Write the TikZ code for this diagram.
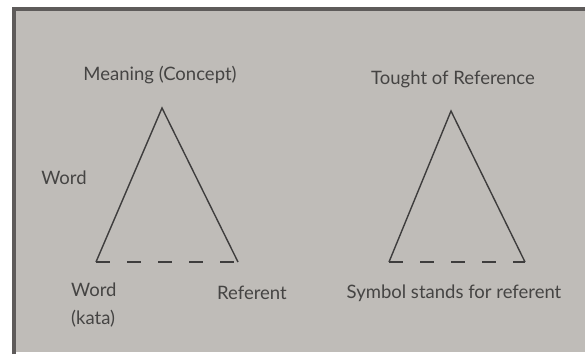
\documentclass[tikz,border=0pt]{standalone}
\usepackage{fontspec}
\setmainfont{Lato}
\usepackage{xcolor}
\definecolor{pagegray}{HTML}{BFBCB8}
\definecolor{framegray}{HTML}{5E5B5A}
\definecolor{inkgray}{HTML}{3E3D3D}
\definecolor{textgray}{HTML}{454443}

\begin{document}
\begin{tikzpicture}[
    x=1pt, y=1pt, yscale=-1, xscale=1,
    every node/.style={font=\fontsize{18.5}{28}\selectfont, text=textgray, inner sep=1pt},
    side/.style={draw=inkgray, line width=1.4pt, line join=miter},
    base/.style={draw=inkgray, line width=1.8pt, dash pattern=on 14 off 17}
]
\useasboundingbox (0,0) rectangle (585,354);

%==================== Page and frame ====================
\fill[white] (0,0) rectangle (585,354);
\fill[pagegray] (12,7) rectangle (585,352);
\draw[framegray, line width=3.5pt] (14,354) -- (14,9) -- (585,9);

%==================== Left triangle ====================
\coordinate (mtop)   at (162,108);
\coordinate (mword)  at (96,262);
\coordinate (mref)   at (238,262);
\draw[side] (mword) -- (mtop) -- (mref);
\draw[base] (mword) -- (mref);

%==================== Right triangle ====================
\coordinate (ttop)   at (451,111);
\coordinate (tsym)   at (389,262);
\coordinate (tref)   at (525,262);
\draw[side] (tsym) -- (ttop) -- (tref);
\draw[base] (tsym) -- (tref);

%==================== Labels ====================
\node (meaning) at (160,75)  {Meaning (Concept)};
\node (tought)  at (453,79)  {Tought of Reference};
\node (wordl)   at (64,178)  {Word};
\node (wordk) [anchor=west, align=left] at (70,305) {Word\\(kata)};
\node (referent) at (252,293) {Referent};
\node (symbol)   at (454,293) {Symbol stands for referent};

\end{tikzpicture}
\end{document}
